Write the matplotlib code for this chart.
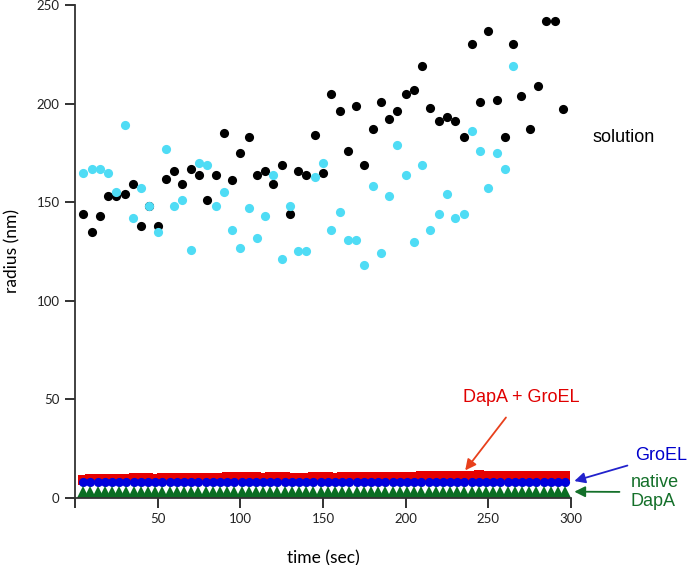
import numpy as np
import matplotlib
matplotlib.use("Agg")
import matplotlib.pyplot as plt

# dynamic light scattering: particle radius over time
time_sol = np.arange(5, 300, 5)

# black dots (solution, run 1)
radius_black = [144, 135, 143, 153, 153, 154, 159, 138, 148, 138,
                162, 166, 159, 167, 164, 151, 164, 185, 161, 175,
                183, 164, 166, 159, 169, 144, 166, 164, 184, 165,
                205, 196, 176, 199, 169, 187, 201, 192, 196, 205,
                207, 219, 198, 191, 193, 191, 183, 230, 201, 237,
                202, 183, 230, 204, 187, 209, 242, 242, 197]

# cyan dots (solution, run 2) - stops at 265 s
radius_cyan = [165, 167, 167, 165, 155, 189, 142, 157, 148, 135,
               177, 148, 151, 126, 170, 169, 148, 155, 136, 127,
               147, 132, 143, 164, 121, 148, 125, 125, 163, 170,
               136, 145, 131, 131, 118, 158, 124, 153, 179, 164,
               130, 169, 136, 144, 154, 142, 144, 186, 176, 157,
               175, 167, 219]
time_cyan = time_sol[:len(radius_cyan)]

# bottom band: DapA + GroEL, GroEL, native DapA
time_band = np.arange(5, 297, 4.35)
radius_mix = [9.3, 9.5, 9.4, 9.6, 9.5, 9.7, 9.8, 10.0, 10.1, 9.9,
              9.8, 9.9, 10.0, 10.1, 10.0, 9.9, 10.1, 10.2, 10.3, 10.2,
              10.4, 10.5, 10.6, 10.5, 10.4, 10.3, 10.5, 10.6, 10.4, 10.3,
              10.2, 10.3, 10.4, 10.5, 10.4, 10.3, 10.4, 10.5, 10.6, 10.5,
              10.6, 10.7, 10.6, 10.5, 10.6, 10.7, 10.8, 10.9, 11.0, 11.1,
              11.2, 11.3, 11.4, 11.3, 11.4, 11.5, 11.4, 11.3, 11.2, 11.3,
              11.1, 11.2, 11.1, 11.0, 11.1, 11.0, 10.9, 10.9]
radius_groel = [8.0] * 68
radius_native = [3.2] * 68

fig = plt.figure(figsize=(6.87, 5.65), dpi=100)
ax = fig.add_axes([0.1092, 0.1186, 0.722, 0.8726])

ax.plot(time_sol, radius_black, 'o', color='black', ms=6.6, mew=0, clip_on=False)
ax.plot(time_cyan, radius_cyan, 'o', color='#4fdcf5', ms=6.6, mew=0, clip_on=False)

ax.plot(time_band, radius_mix, 's', color='#e60000', ms=7.0, mew=0, clip_on=False)
ax.plot(time_band, radius_groel, 'o', color='#0000dc', ms=6.6, mew=0, clip_on=False)
ax.plot(time_band, radius_native, '^', color='#0a6e23', ms=8.0, mew=0, clip_on=False)

ax.set_xlim(0, 300)
ax.set_ylim(0, 250)
ax.set_xticks([0, 50, 100, 150, 200, 250, 300])
ax.set_xticklabels(['', '50', '100', '150', '200', '250', '300'])
ax.set_yticks([0, 50, 100, 150, 200, 250])

for side in ['top', 'right']:
    ax.spines[side].set_visible(False)
for side in ['left', 'bottom']:
    ax.spines[side].set_color('#333333')
    ax.spines[side].set_linewidth(1.3)
ax.tick_params(direction='out', length=7, width=1.3, color='#222222',
               labelsize=9.5, labelcolor='#222222', pad=4)
for lab in ax.get_xticklabels() + ax.get_yticklabels():
    lab.set_family('Lato')

ax.set_xlabel('time (sec)', family='Lato', fontsize=12.5, labelpad=18)
ax.set_ylabel('radius (nm)', family='Lato', fontsize=12.5, labelpad=12)

txt = dict(family='Liberation Sans', fontsize=13)
ax.text(313, 183, 'solution', color='black', va='center', ha='left', **txt)

ax.annotate('DapA + GroEL', xy=(236, 14), xytext=(270, 51), color='#e00000',
            ha='center', va='center', annotation_clip=False, **txt,
            arrowprops=dict(arrowstyle='-|>', color='#e8401c', lw=1.3,
                            mutation_scale=16, shrinkA=8, shrinkB=0))
ax.annotate('GroEL', xy=(302, 8.6), xytext=(339, 21.5), color='#0000cc',
            ha='left', va='center', annotation_clip=False, **txt,
            arrowprops=dict(arrowstyle='-|>', color='#2222cc', lw=1.3,
                            mutation_scale=16, shrinkA=4, shrinkB=0))
ax.annotate('native\nDapA', xy=(302, 3.2), xytext=(336, 3.0), color='#14702a',
            ha='left', va='center', linespacing=1.1, annotation_clip=False, **txt,
            arrowprops=dict(arrowstyle='-|>', color='#14702a', lw=1.3,
                            mutation_scale=16, shrinkA=6, shrinkB=0))

fig.savefig('out.png', dpi=100)
